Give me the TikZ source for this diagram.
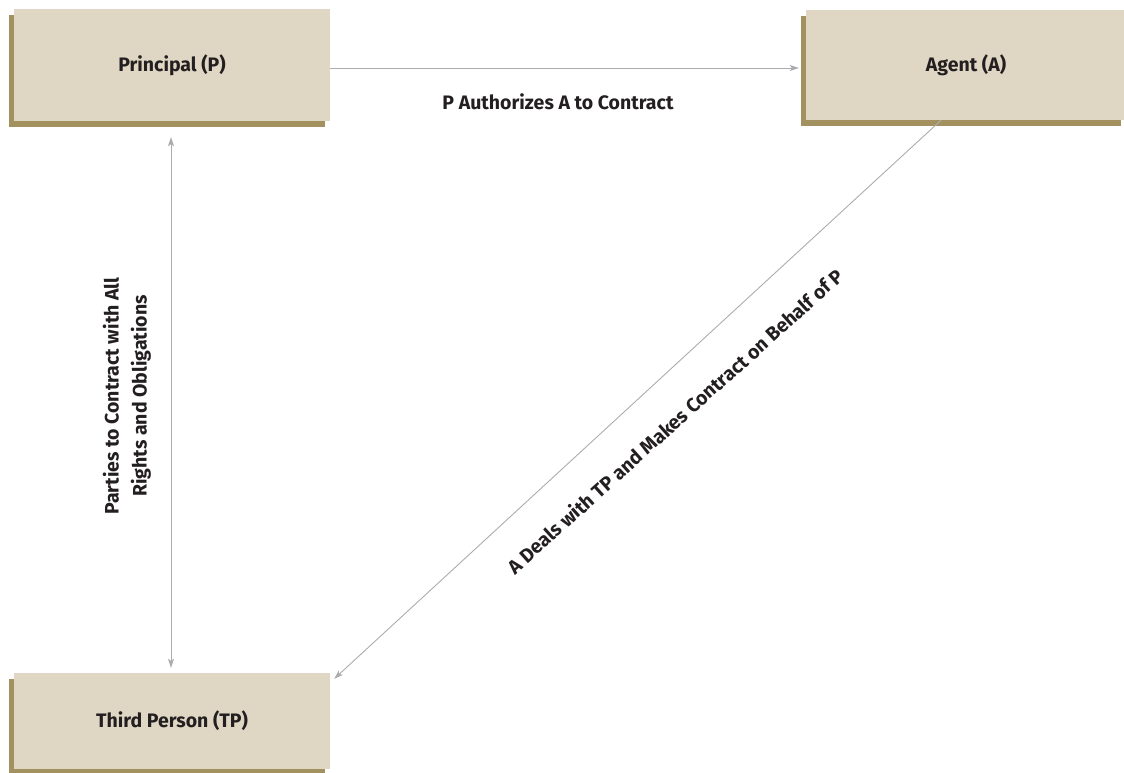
\documentclass[tikz,border=0pt]{standalone}
\usepackage{fontspec}
\setmainfont{Fira Sans}
\usetikzlibrary{arrows.meta,shadows}
\definecolor{boxfill}{RGB}{223,215,195}
\definecolor{boxshade}{RGB}{163,146,96}
\definecolor{linkgray}{RGB}{172,172,176}
\definecolor{inkdark}{RGB}{35,31,32}

\begin{document}
\begin{tikzpicture}[x=1pt, y=-1pt,
    party/.style={fill=boxfill, minimum width=316pt, text=inkdark, font=\fontsize{19.5}{23}\selectfont\bfseries,
        drop shadow={shadow xshift=-5pt, shadow yshift=-6pt, fill=boxshade, opacity=1}},
    link/.style={draw=linkgray, line width=0.9pt, -{Stealth[length=9pt,width=6pt,inset=2pt]}},
    note/.style={text=inkdark, font=\fontsize{19.5}{28}\selectfont\bfseries, align=center}]
    \useasboundingbox (0,0) rectangle (1124,773);
    \node[party, minimum height=112pt] (principal) at (172,65) {Principal (P)};
    \node[party, minimum height=110pt, minimum width=320pt] (agent) at (966,65) {Agent (A)};
    \node[party, minimum height=96pt] (third) at (172,721) {Third Person (TP)};
    \draw[link, shorten >=7pt] ([yshift=-3pt]principal.east) -- ([yshift=-3pt]agent.west);
    \draw[link, {Stealth[length=9pt,width=6pt,inset=2pt]}-{Stealth[length=9pt,width=6pt,inset=2pt]}, shorten <=16pt, shorten >=5pt] ([xshift=-1pt]principal.south) -- ([xshift=-1pt]third.north);
    \draw[link] ([xshift=-25pt]agent.south) -- ([xshift=4pt, yshift=-6pt]third.north east);
    \node[note] (authorize) at (558,102) {P Authorizes A to Contract};
    \node[note, rotate=90] (parties) at (127,396) {Parties to Contract with All\\Rights and Obligations};
    \node[note, rotate=42] (deals) at (675,421) {A Deals with TP and Makes Contract on Behalf of P};
\end{tikzpicture}
\end{document}
